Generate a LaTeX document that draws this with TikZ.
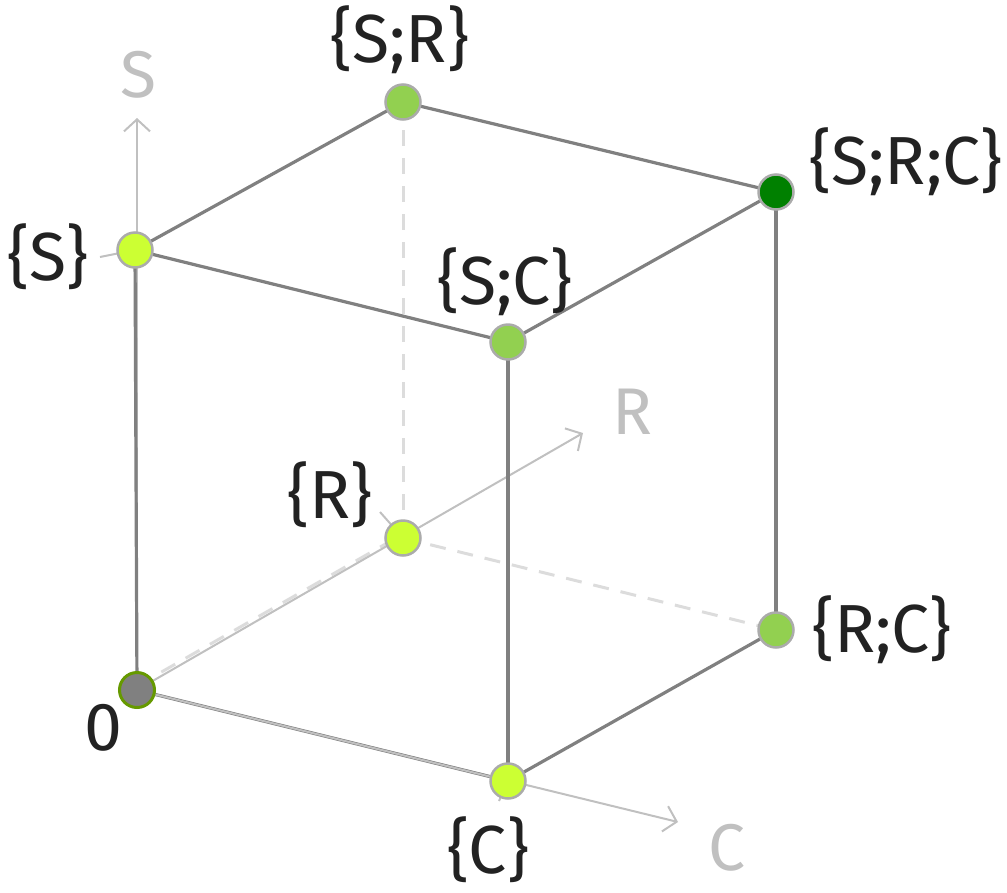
\documentclass[tikz,border=0pt]{standalone}
\usepackage{fontspec}
\setmainfont{Fira Sans}
\usetikzlibrary{arrows.meta}
\definecolor{edgegray}{HTML}{808080}
\definecolor{axisgray}{HTML}{C0C0C0}
\definecolor{dashgray}{HTML}{DCDCDC}
\definecolor{ringgray}{HTML}{ABABAB}
\definecolor{lime}{HTML}{CCFF33}
\definecolor{midgreen}{HTML}{92D050}
\definecolor{darkgreen}{HTML}{008000}
\definecolor{olive}{HTML}{669900}
\definecolor{txt}{HTML}{222222}
\begin{document}
\begin{tikzpicture}[x=1pt,y=-1pt,
  vtx/.style={circle,draw=ringgray,line width=2.5pt,minimum size=35pt,inner sep=0pt},
  edge/.style={draw=edgegray,line width=3.2pt},
  hidden/.style={draw=dashgray,line width=3pt,dash pattern=on 16pt off 12pt},
  axis/.style={draw=axisgray,line width=2pt,-{Straight Barb[length=12pt,width=26pt,line width=2pt]}},
  leader/.style={draw=axisgray,line width=2pt},
  lbl/.style={text=txt,font=\fontsize{68}{80}\selectfont,inner sep=0pt},
  axlbl/.style={text=axisgray,font=\fontsize{66}{78}\selectfont,inner sep=0pt}]
\useasboundingbox (0,0) rectangle (1007,892);
% vertex positions
\coordinate (p0) at (137,690);
\coordinate (pS) at (135,250);
\coordinate (pSR) at (403,102);
\coordinate (pSRC) at (776,192);
\coordinate (pSC) at (508,342);
\coordinate (pR) at (403,538);
\coordinate (pRC) at (776,630);
\coordinate (pC) at (508,781);
\coordinate (aS) at (137,118);
\coordinate (aR) at (583,433);
\coordinate (aC) at (678,822);
% hidden edges
\draw[hidden] (pSR) -- (pR);
\draw[hidden] (pR) -- (pRC);
\draw[hidden] ([yshift=4pt]p0) -- ([yshift=4pt]pR);
% axes
\draw[axis] (p0) -- (aS);
\draw[axis] (p0) -- (aR);
\draw[axis] (p0) -- (aC);
% visible edges
\draw[edge] (pS) -- (pSR);
\draw[edge] (pSR) -- (pSRC);
\draw[edge] (pS) -- (pSC);
\draw[edge] (pSC) -- (pSRC);
\draw[edge] (p0) -- (pS);
\draw[edge] (pSC) -- (pC);
\draw[edge] (pSRC) -- (pRC);
\draw[edge] (pRC) -- (pC);
\draw[edge] (p0) -- (pC);
\draw[axis,-] (p0) -- (pC);
% leader lines
\coordinate (lS) at (100,257);
\coordinate (lR) at (380,512);
\coordinate (lC) at (499,801);
\draw[leader] (lS) -- (pS);
\draw[leader] (lR) -- (pR);
\draw[leader] (lC) -- (pC);
% vertices
\node[vtx,fill=edgegray,draw=olive,line width=3pt] (n0) at (p0) {};
\node[vtx,fill=lime] (nS) at (pS) {};
\node[vtx,fill=midgreen] (nSR) at (pSR) {};
\node[vtx,fill=darkgreen] (nSRC) at (pSRC) {};
\node[vtx,fill=midgreen] (nSC) at (pSC) {};
\node[vtx,fill=lime] (nR) at (pR) {};
\node[vtx,fill=midgreen] (nRC) at (pRC) {};
\node[vtx,fill=lime] (nC) at (pC) {};
% labels
\node[lbl] (t0) at (103,728) {0};
\node[lbl] (tS) at (48,257) {\{S\}};
\node[lbl] (tSR) at (400,40) {\{S;R\}};
\node[lbl] (tSRC) at (906,162) {\{S;R;C\}};
\node[lbl] (tSC) at (505,282) {\{S;C\}};
\node[lbl] (tR) at (330,495) {\{R\}};
\node[lbl] (tRC) at (882,630) {\{R;C\}};
\node[lbl] (tC) at (488,850) {\{C\}};
\node[axlbl] (xS) at (138,75) {S};
\node[axlbl] (xR) at (632,412) {R};
\node[axlbl] (xC) at (727,848) {C};
\end{tikzpicture}
\end{document}
